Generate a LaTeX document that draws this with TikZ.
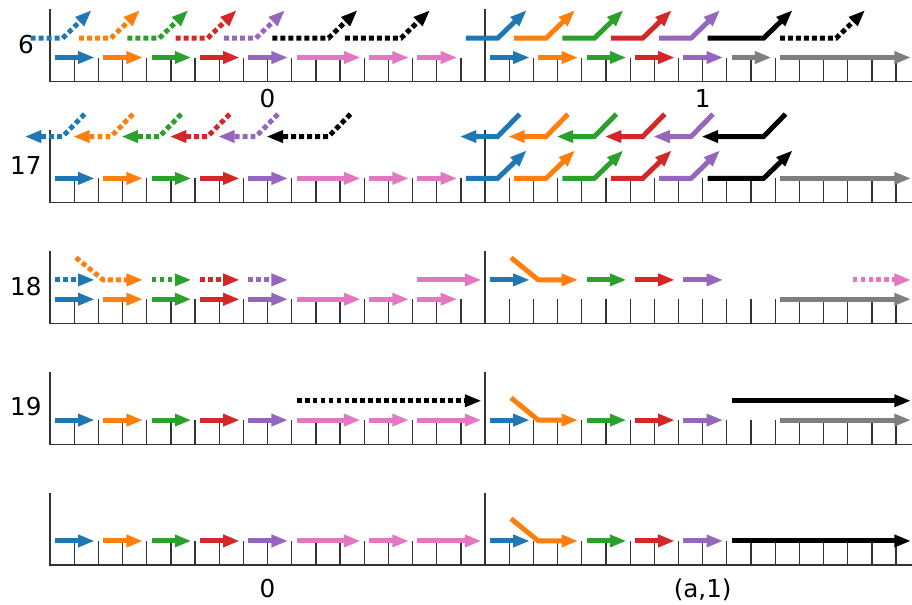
\documentclass[tikz,border=0pt]{standalone}
\usepackage{fontspec}
\setmainfont{DejaVu Sans}
\usetikzlibrary{arrows.meta}

\definecolor{cblue}{HTML}{1F77B4}
\definecolor{corange}{HTML}{FF7F0E}
\definecolor{cgreen}{HTML}{2CA02C}
\definecolor{cred}{HTML}{D62728}
\definecolor{cpurple}{HTML}{9467BD}
\definecolor{cpink}{HTML}{E377C2}
\definecolor{cgray}{HTML}{7F7F7F}

\begin{document}
\begin{tikzpicture}[
        x=0.5cm, y=0.5cm,
        every node/.style={font=\fontsize{14.5}{17}\selectfont, inner sep=0pt},
        axisline/.style={black!80, line width=0.75pt},
        lane/.style={line width=2.9pt, -{Triangle[length=9.8pt, width=6.9pt]}},
        dots/.style={dash pattern=on 2.9pt off 1.8pt}
    ]
    \useasboundingbox (-2.07,-1.61) rectangle (35.66,23.38);

    % Axes
    \foreach \r in {0,5,10,15,20} {
        \draw[axisline] (0,\r+3) -- (0,\r) -- (35.7,\r);
        \draw[axisline] (18,\r) -- (18,\r+3);
        \foreach \i in {1,...,35} \draw[axisline] (\i,\r) -- (\i,\r+1);
    }

    % Labels
    \node (six) [anchor=base] at (-1,21.17) {6};
    \node (seventeen) [anchor=base] at (-1,16.17) {17};
    \node (eighteen) [anchor=base] at (-1,11.17) {18};
    \node (nineteen) [anchor=base] at (-1,6.17) {19};
    \node (zerotop) [anchor=base] at (9,18.92) {0};
    \node (onetop) [anchor=base] at (27,18.92) {1};
    \node (zerobot) [anchor=base] at (9,-1.33) {0};
    \node (aone) [anchor=base] at (27,-1.33) {(a,1)};

    % Lower lane, left half
    \foreach \r/\p in {20/17,15/17,10/17,5/18,0/18} {
        \foreach \s/\e/\c in {0/2/cblue,2/4/corange,4/6/cgreen,6/8/cred,8/10/cpurple,10/13/cpink,13/15/cpink}
            \draw[lane,\c] (\s+0.2,\r+1) -- (\e-0.15,\r+1);
        \draw[lane,cpink] (15.2,\r+1) -- (\p-0.15,\r+1);
    }

    % Row 6
    \foreach \s/\e/\c in {18/20/cblue,20/22/corange,22/24/cgreen,24/26/cred,26/28/cpurple,28/30/cgray,30/35.77/cgray}
        \draw[lane,\c] (\s+0.2,21) -- (\e-0.15,21);
    \foreach \s/\e/\c/\d in {-1/1/cblue/dots,1/3/corange/dots,3/5/cgreen/dots,5/7/cred/dots,7/9/cpurple/dots,9/12/black/dots,12/15/black/dots,
            17/19/cblue/solid,19/21/corange/solid,21/23/cgreen/solid,23/25/cred/solid,25/27/cpurple/solid,27/30/black/solid,30/33/black/dots}
        \draw[lane,\c,\d] (\s+0.2,21.8) -- (\e-0.48,21.8) -- (\e+0.72,22.96);

    % Row 17
    \foreach \s/\e/\c in {17/19/cblue,19/21/corange,21/23/cgreen,23/25/cred,25/27/cpurple,27/30/black}
        \draw[lane,\c] (\s+0.2,16) -- (\e-0.48,16) -- (\e+0.72,17.16);
    \draw[lane,cgray] (30.2,16) -- (35.62,16);
    \foreach \s/\e/\c/\d in {-1/1/cblue/dots,1/3/corange/dots,3/5/cgreen/dots,5/7/cred/dots,7/9/cpurple/dots,9/12/black/dots,
            17/19/cblue/solid,19/21/corange/solid,21/23/cgreen/solid,23/25/cred/solid,25/27/cpurple/solid,27/30/black/solid}
        \draw[lane,\c,\d] (\e+0.43,18.66) -- (\e-0.48,17.73) -- (\s-0.05,17.73);

    % Row 18
    \foreach \s/\e/\c/\d in {0/2/cblue/dots,4/6/cgreen/dots,6/8/cred/dots,8/10/cpurple/dots,15/18/cpink/solid,33/35.77/cpink/dots}
        \draw[lane,\c,\d] (\s+0.2,11.8) -- (\e-0.15,11.8);
    \draw[lane,corange,dots] (1.07,12.72) -- (2.2,11.8) -- (3.85,11.8);
    \draw[lane,cgray] (30.2,11) -- (35.62,11);

    % Right half, shared by rows 18, 19 and the last one
    \foreach \y in {11.8,6,1} {
        \foreach \s/\e/\c in {18/20/cblue,22/24/cgreen,24/26/cred,26/28/cpurple}
            \draw[lane,\c] (\s+0.2,\y) -- (\e-0.15,\y);
        \draw[lane,corange] (19.07,\y+0.92) -- (20.2,\y) -- (21.85,\y);
    }

    % Row 19
    \draw[lane,cgray] (30.2,6) -- (35.62,6);
    \draw[lane,dots] (10.2,6.8) -- (17.85,6.8);
    \draw[lane] (28.2,6.8) -- (35.62,6.8);

    % Last row
    \draw[lane] (28.2,1) -- (35.62,1);

\end{tikzpicture}
\end{document}
